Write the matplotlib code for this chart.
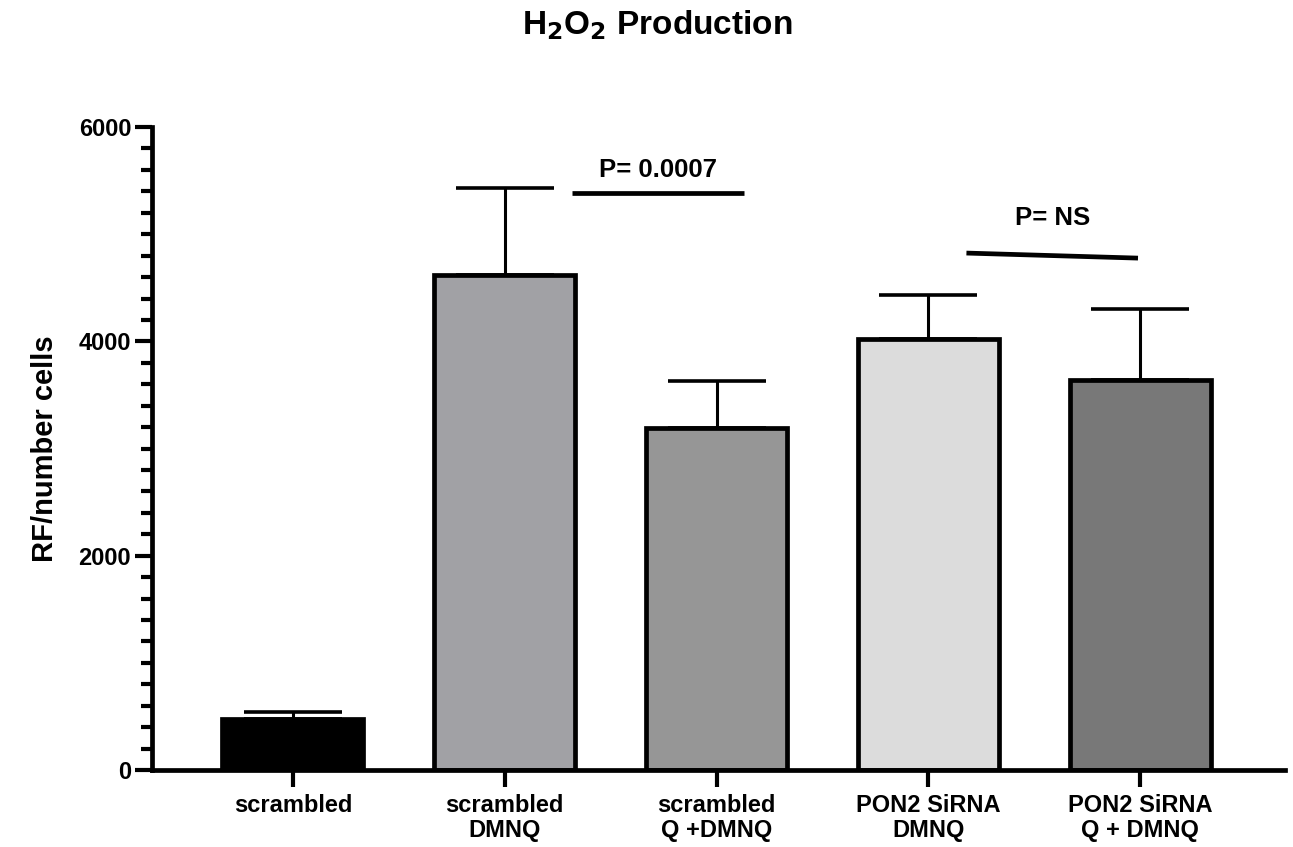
import matplotlib.pyplot as plt
from matplotlib.ticker import MultipleLocator

plt.rcParams["font.family"] = ["Liberation Sans", "DejaVu Sans"]
plt.rcParams["font.weight"] = "bold"

labels = ["scrambled", "scrambled\nDMNQ", "scrambled\nQ +DMNQ",
          "PON2 SiRNA\nDMNQ", "PON2 SiRNA\nQ + DMNQ"]
means = [480, 4620, 3190, 4020, 3640]
errors = [60, 810, 440, 410, 660]
colors = ["#000000", "#a1a1a5", "#969696", "#dcdcdc", "#787878"]

# significance bars: (x0, x1, y0, y1, text, text_y)
sig = [(1.32, 2.13, 5384, 5384, "P= 0.0007", 5600),
       (3.18, 3.99, 4824, 4777, "P= NS", 5150)]

fig = plt.figure(figsize=(12.93, 8.47), dpi=100)
ax = fig.add_axes([0.1176, 0.0909, 0.8762, 0.7591])

x = list(range(len(labels)))
ax.bar(x, means, width=0.665, color=colors, edgecolor="black", linewidth=3.4, zorder=2)
ax.errorbar(x, means, yerr=[[0] * len(errors), errors], fmt="none", ecolor="black",
            elinewidth=2.2, capsize=35, capthick=2.6, zorder=1)

for x0, x1, y0, y1, txt, ty in sig:
    ax.plot([x0, x1], [y0, y1], color="black", linewidth=3.4, solid_capstyle="butt")
    ax.text((x0 + x1) / 2, ty, txt, ha="center", va="center", fontsize=18.5, fontweight="bold")

ax.set_xlim(-0.665, 4.684)
ax.set_ylim(0, 6000)
ax.set_xticks(x)
ax.set_xticklabels(labels, fontsize=17, fontweight="bold", linespacing=1.15)
ax.yaxis.set_major_locator(MultipleLocator(2000))
ax.yaxis.set_minor_locator(MultipleLocator(200))
ax.tick_params(axis="y", which="major", length=12, width=3, labelsize=17, pad=3)
ax.tick_params(axis="y", which="minor", length=8, width=3)
ax.tick_params(axis="x", which="major", length=12, width=3, direction="out", pad=5)

for s in ["top", "right"]:
    ax.spines[s].set_visible(False)
for s in ["left", "bottom"]:
    ax.spines[s].set_linewidth(3.4)

ax.set_ylabel("RF/number cells", fontsize=21, fontweight="bold")
ax.yaxis.set_label_coords(-0.0944, 0.5)
ax.yaxis.label.set_va("center")
fig.text(0.508, 0.97, r"H$_\mathbf{2}$O$_\mathbf{2}$ Production", ha="center", va="center",
         fontsize=24, fontweight="bold")

fig.savefig("out.png", dpi=100)
